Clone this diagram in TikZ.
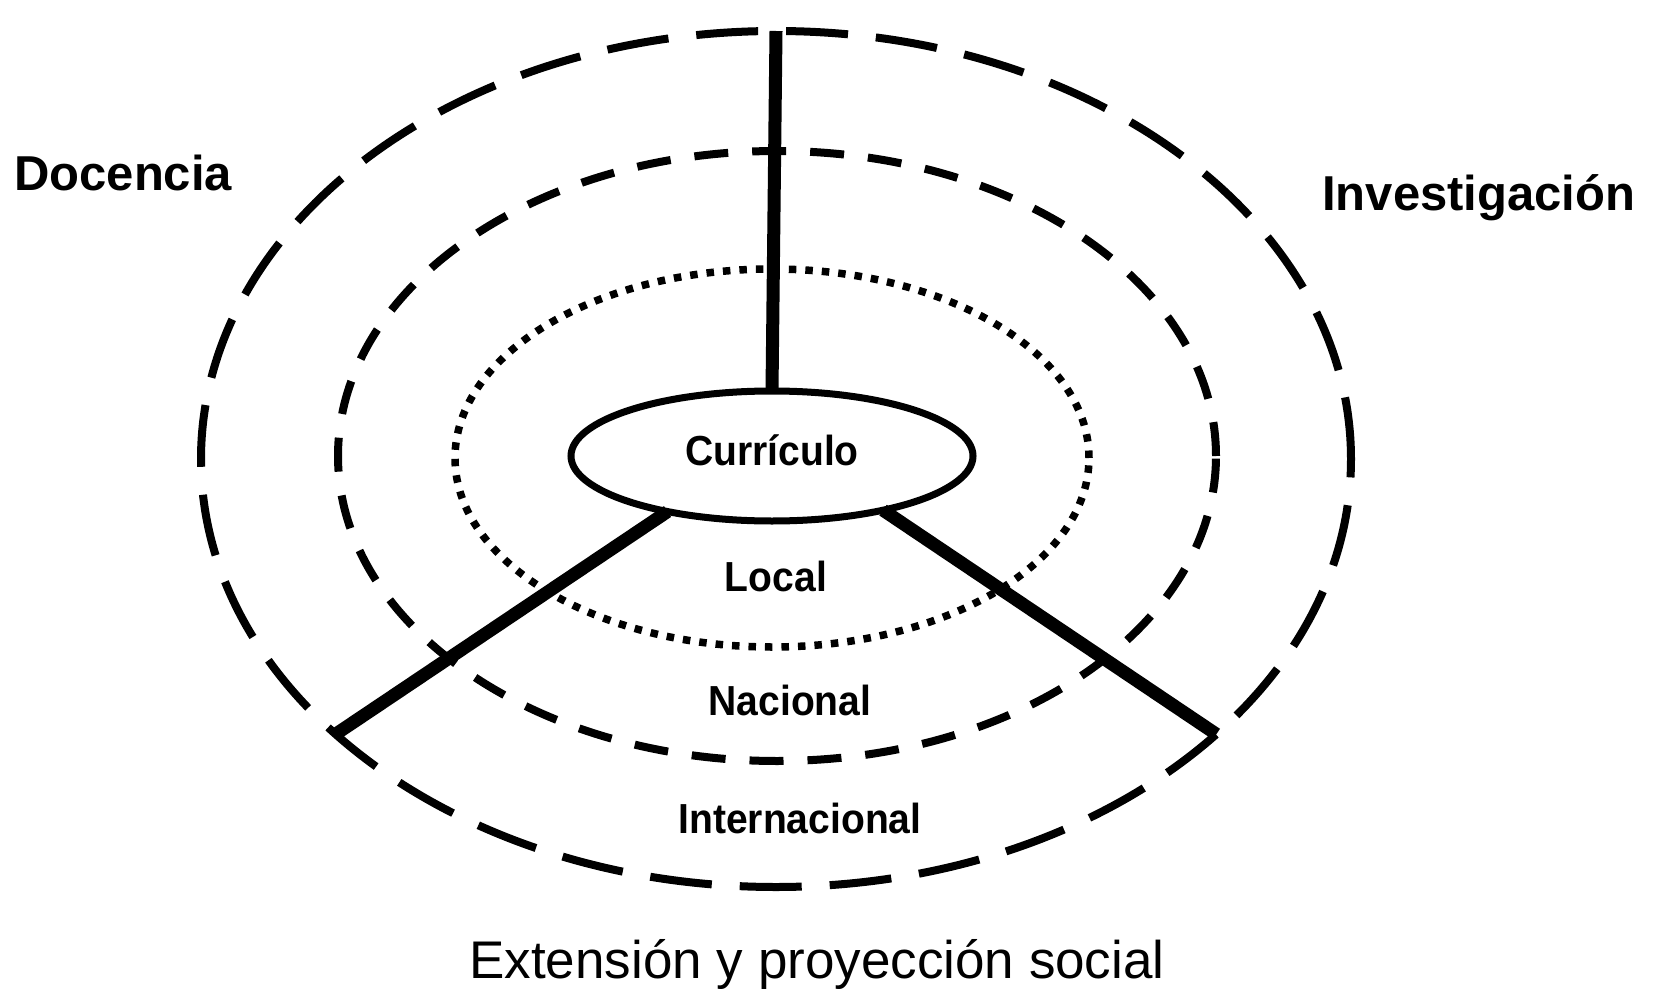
\documentclass[tikz,border=0pt]{standalone}
\usepackage{fontspec}
\setmainfont{Liberation Sans}
\newfontfamily\narrowFont[FakeStretch=0.93]{Liberation Sans}
\usetikzlibrary{shapes.geometric}

\providecommand*{\xMid}{}
\providecommand*{\yMid}{}
\renewcommand*{\xMid}{775}
\renewcommand*{\yMid}{458}

\begin{document}
\begin{tikzpicture}[x=1pt,y=-1pt,
    ring/.style={ellipse,draw,line width=8pt,inner sep=0pt,outer sep=0pt},
    spoke/.style={line width=13pt},
    sideLabel/.style={inner sep=0pt,font=\fontsize{49}{49}\selectfont\bfseries},
    ringLabel/.style={inner sep=0pt,anchor=base,font=\narrowFont\fontsize{42}{42}\selectfont\bfseries}]
  \useasboundingbox (0,0) rectangle (1658,990);
  % rings, from outside in
  \node [ring,dash pattern=on 62pt off 28pt,minimum width=1150,minimum height=856] (outer) at (\xMid+1,\yMid+1) {};
  \node [ring,dash pattern=on 34pt off 24pt,minimum width=878,minimum height=610] (middle) at (\xMid+2,\yMid-2) {};
  \node [ring,line width=7.5pt,dash pattern=on 7.5pt off 9pt,minimum width=634,minimum height=378] (inner) at (\xMid-3,\yMid) {};
  \node [ring,line width=7pt,minimum width=402,minimum height=130] (curr) at (\xMid-3,\yMid-2) {};
  % spokes
  \draw [spoke] (curr.north) -- (outer.north);
  \draw [spoke] (curr.208) -- (outer.212);
  \draw [spoke] (curr.334) -- (outer.328);
  % texts
  \node [ringLabel] (currText) at (772,465) {Currículo};
  \node [ringLabel] (local) at (776,591) {Local};
  \node [ringLabel] (nacional) at (790,715) {Nacional};
  \node [ringLabel] (internacional) at (800,833) {Internacional};
  \node [sideLabel,anchor=base west] (docencia) at (14,190) {Docencia};
  \node [sideLabel,anchor=base west] (investigacion) at (1322,210) {Investigación};
  \node [inner sep=0pt,anchor=base,font=\fontsize{53}{53}\selectfont] (extension) at (817,978) {Extensión y proyección social};
\end{tikzpicture}
\end{document}
